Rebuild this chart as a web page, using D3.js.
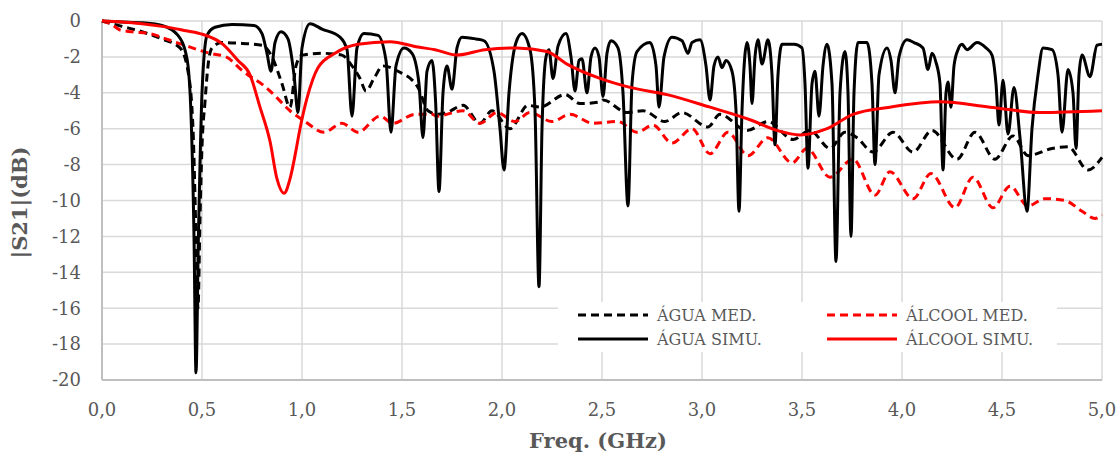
<!DOCTYPE html>
<html>
<head>
<meta charset="utf-8">
<script src="https://cdn.jsdelivr.net/npm/d3@7"></script>
<style>
  body { margin: 0; background: #fff; }
  svg text { font-family: "DejaVu Serif", serif; fill: #595959; }
</style>
</head>
<body>
<svg id="chart" width="1120" height="457"></svg>
<script>
// tick values
const xTicks = [0, 0.5, 1, 1.5, 2, 2.5, 3, 3.5, 4, 4.5, 5];
const yTicks = [0, -2, -4, -6, -8, -10, -12, -14, -16, -18, -20];

// series: [freq GHz, |S21| dB]
const aguaMed = [[0,0],[0.1,-0.3],[0.2,-0.6],[0.3,-1.0],[0.39,-1.5],[0.43,-2.8],[0.455,-6],[0.47,-12],[0.48,-16],[0.49,-11],[0.5,-7],[0.515,-4.5],[0.53,-2.5],[0.55,-1.5],[0.6,-1.2],[0.7,-1.25],[0.8,-1.35],[0.85,-2.0],[0.9,-3.5],[0.94,-4.8],[0.97,-2.5],[1.0,-1.9],[1.1,-1.8],[1.2,-1.9],[1.25,-2.5],[1.29,-3.2],[1.32,-3.9],[1.36,-3.2],[1.405,-2.5],[1.48,-2.8],[1.58,-3.7],[1.63,-5.0],[1.68,-5.2],[1.725,-5.1],[1.805,-4.7],[1.89,-5.7],[1.95,-5.0],[2.04,-6.0],[2.13,-4.7],[2.19,-4.8],[2.315,-4.1],[2.39,-4.6],[2.49,-4.5],[2.505,-4.4],[2.625,-5.1],[2.705,-5.0],[2.815,-5.6],[2.9,-5.1],[3.03,-5.9],[3.09,-5.2],[3.225,-6.1],[3.33,-5.6],[3.455,-6.6],[3.54,-6.1],[3.64,-7.1],[3.715,-6.2],[3.775,-6.5],[3.855,-7.3],[3.955,-6.2],[4.055,-7.3],[4.15,-6.1],[4.275,-7.7],[4.365,-6.2],[4.465,-7.7],[4.555,-6.4],[4.63,-7.5],[4.75,-7.1],[4.83,-7.0],[4.93,-8.3],[5.0,-7.6]];

const aguaSim = [[0,0],[0.1,-0.05],[0.2,-0.1],[0.3,-0.25],[0.38,-0.8],[0.425,-2.1],[0.445,-5.2],[0.46,-12],[0.47,-19.6],[0.482,-12],[0.49,-8],[0.5,-4],[0.525,-0.8],[0.565,-0.35],[0.65,-0.2],[0.76,-0.25],[0.8,-0.7],[0.825,-1.8],[0.845,-2.8],[0.865,-1.2],[0.895,-0.6],[0.93,-1.0],[0.96,-3],[0.98,-5.1],[1.0,-1.5],[1.04,-0.15],[1.1,-0.45],[1.19,-0.9],[1.225,-1.6],[1.25,-5.3],[1.275,-1.5],[1.31,-0.7],[1.38,-0.8],[1.42,-2.2],[1.445,-6.2],[1.47,-2.5],[1.51,-1.5],[1.55,-1.8],[1.585,-3.5],[1.605,-6.5],[1.625,-2.8],[1.65,-2.2],[1.668,-4.5],[1.685,-9.5],[1.705,-4],[1.725,-2.5],[1.75,-3.8],[1.775,-1.5],[1.8,-0.9],[1.87,-1.0],[1.91,-1.1],[1.96,-2.8],[1.99,-6],[2.01,-8.3],[2.035,-4],[2.07,-1.2],[2.1,-0.7],[2.14,-1.6],[2.165,-5],[2.185,-14.8],[2.2,-6],[2.22,-2],[2.235,-1.6],[2.255,-3.2],[2.28,-1.4],[2.32,-0.7],[2.345,-2],[2.365,-3.9],[2.385,-2.2],[2.4,-2.1],[2.425,-4],[2.445,-2],[2.465,-1.5],[2.485,-2],[2.505,-4.2],[2.525,-1.8],[2.545,-1.1],[2.58,-1.5],[2.605,-4],[2.63,-10.3],[2.65,-3.5],[2.675,-1.7],[2.74,-1.2],[2.77,-2.5],[2.785,-4.8],[2.81,-2],[2.85,-0.9],[2.9,-1.1],[2.93,-1.8],[2.95,-1.2],[2.99,-1.05],[3.02,-2.5],[3.04,-4.4],[3.06,-2.5],[3.08,-2.0],[3.1,-2.6],[3.12,-2.2],[3.15,-2.8],[3.17,-5],[3.185,-10.6],[3.2,-5],[3.225,-1.2],[3.24,-2.5],[3.25,-4.6],[3.265,-2],[3.28,-1.05],[3.3,-2.4],[3.33,-1.05],[3.35,-3],[3.365,-6.9],[3.38,-3],[3.4,-1.3],[3.46,-1.3],[3.5,-1.5],[3.515,-3.5],[3.53,-8.2],[3.55,-3.5],[3.565,-2.8],[3.585,-5.3],[3.605,-2.5],[3.625,-1.3],[3.65,-3.5],[3.67,-13.4],[3.69,-4],[3.715,-1.7],[3.73,-4],[3.745,-12],[3.76,-4],[3.78,-1.2],[3.825,-1.2],[3.85,-3.5],[3.865,-8],[3.885,-3],[3.925,-1.5],[3.945,-2.2],[3.965,-4],[3.985,-2],[4.025,-1.05],[4.06,-1.2],[4.105,-1.5],[4.13,-2.7],[4.15,-1.8],[4.17,-2.3],[4.19,-3.5],[4.205,-8.3],[4.22,-4],[4.23,-3.4],[4.245,-4.8],[4.26,-2.5],[4.28,-1.6],[4.3,-1.3],[4.325,-1.6],[4.375,-1.2],[4.42,-1.5],[4.45,-1.9],[4.47,-3.5],[4.485,-5.8],[4.505,-3.3],[4.53,-6.3],[4.56,-3.7],[4.59,-6.5],[4.625,-10.6],[4.65,-6],[4.68,-3],[4.705,-1.5],[4.75,-1.6],[4.78,-3],[4.8,-6.2],[4.83,-2.7],[4.855,-4],[4.87,-7.1],[4.885,-3],[4.9,-1.9],[4.94,-3.1],[4.975,-1.35],[5.0,-1.3]];

const alcoolMed = [[0,0],[0.05,-0.2],[0.09,-0.5],[0.15,-0.6],[0.24,-0.7],[0.32,-1.0],[0.4,-1.3],[0.54,-1.8],[0.62,-2.0],[0.705,-2.8],[0.82,-3.7],[0.85,-4.0],[0.94,-5.0],[1.015,-5.6],[1.11,-6.2],[1.2,-5.7],[1.28,-6.2],[1.39,-5.3],[1.455,-5.7],[1.565,-5.2],[1.65,-5.2],[1.675,-5.3],[1.805,-5.0],[1.89,-5.7],[1.975,-5.1],[2.065,-5.6],[2.14,-5.1],[2.25,-5.6],[2.34,-5.2],[2.455,-5.7],[2.58,-5.6],[2.675,-6.2],[2.755,-5.8],[2.85,-6.8],[2.95,-6.0],[3.04,-7.4],[3.13,-6.2],[3.23,-7.5],[3.33,-6.5],[3.45,-7.9],[3.525,-7.1],[3.64,-8.7],[3.755,-7.7],[3.865,-9.7],[3.94,-8.4],[4.055,-9.9],[4.145,-8.5],[4.265,-10.4],[4.355,-8.7],[4.455,-10.4],[4.54,-9.2],[4.63,-10.3],[4.715,-9.9],[4.815,-10.0],[4.9,-10.6],[4.965,-11.0],[5.0,-10.8]];

const alcoolSim = [[0,0],[0.1,-0.05],[0.2,-0.15],[0.3,-0.3],[0.4,-0.5],[0.49,-0.7],[0.605,-1.3],[0.68,-2.2],[0.74,-3.0],[0.79,-4.8],[0.84,-6.7],[0.875,-8.8],[0.91,-9.6],[0.94,-8.8],[0.965,-7.5],[0.99,-6.0],[1.025,-4.3],[1.08,-2.6],[1.165,-1.8],[1.28,-1.3],[1.44,-1.15],[1.58,-1.45],[1.665,-1.6],[1.775,-1.9],[1.915,-1.6],[2.075,-1.5],[2.225,-1.7],[2.325,-2.4],[2.49,-3.2],[2.64,-3.7],[2.825,-4.1],[3.04,-4.8],[3.24,-5.5],[3.375,-6.1],[3.49,-6.35],[3.625,-6.0],[3.755,-5.2],[3.94,-4.8],[4.19,-4.5],[4.44,-4.8],[4.69,-5.1],[5.0,-5.0]];

const series = [
  { name: 'ÁGUA MED.', data: aguaMed, color: '#000', dash: '8,5' },
  { name: 'ÁLCOOL MED.', data: alcoolMed, color: '#ff0000', dash: '8,5' },
  { name: 'ÁGUA SIMU.', data: aguaSim, color: '#000', dash: null },
  { name: 'ÁLCOOL SIMU.', data: alcoolSim, color: '#ff0000', dash: null }
];

const svg = d3.select('#chart');
const margin = { left: 102, right: 18, top: 21, bottom: 77 };
const width = 1120 - margin.left - margin.right;
const height = 457 - margin.top - margin.bottom;

const x = d3.scaleLinear().domain([0, 5]).range([0, width]);
const y = d3.scaleLinear().domain([-20, 0]).range([height, 0]);

const g = svg.append('g').attr('transform', `translate(${margin.left},${margin.top})`);

// grid
g.selectAll('.hgrid').data(yTicks).enter().append('line')
  .attr('x1', 0).attr('x2', width)
  .attr('y1', d => y(d)).attr('y2', d => y(d))
  .attr('stroke', '#d9d9d9').attr('stroke-width', 1.5);
g.selectAll('.vgrid').data(xTicks).enter().append('line')
  .attr('x1', d => x(d)).attr('x2', d => x(d))
  .attr('y1', 0).attr('y2', height)
  .attr('stroke', '#d9d9d9').attr('stroke-width', 1.5);

// axis lines
g.append('line').attr('x1', 0).attr('x2', 0).attr('y1', 0).attr('y2', height)
  .attr('stroke', '#bfbfbf').attr('stroke-width', 2);
g.append('line').attr('x1', 0).attr('x2', width).attr('y1', height).attr('y2', height)
  .attr('stroke', '#bfbfbf').attr('stroke-width', 2);

// tick labels
const fmt = d => d3.format('.1f')(d).replace('.', ',');
g.selectAll('.xlab').data(xTicks).enter().append('text')
  .attr('x', d => x(d)).attr('y', height + 36)
  .attr('text-anchor', 'middle').style('font-size', '18px')
  .text(fmt);
g.selectAll('.ylab').data(yTicks).enter().append('text')
  .attr('x', -21).attr('y', d => y(d)).attr('dy', '0.35em')
  .attr('text-anchor', 'end').style('font-size', '18px')
  .text(d => d);

// axis titles
svg.append('text').attr('x', margin.left + width / 2 - 4).attr('y', 448)
  .attr('text-anchor', 'middle').style('font-size', '21px').style('font-weight', 'bold')
  .text('Freq. (GHz)');
svg.append('text').attr('transform', `translate(27,${margin.top + height / 2 + 2}) rotate(-90)`)
  .attr('text-anchor', 'middle').style('font-size', '21px').style('font-weight', 'bold')
  .text('|S21|(dB)');

// lines
const line = d3.line()
  .x(d => x(d[0])).y(d => y(d[1]))
  .curve(d3.curveMonotoneX);

g.selectAll('.series').data(series).enter().append('path')
  .attr('d', d => line(d.data))
  .attr('fill', 'none')
  .attr('stroke', d => d.color)
  .attr('stroke-width', 3)
  .attr('stroke-dasharray', d => d.dash)
  .attr('stroke-linejoin', 'round');

// legend
const legend = svg.append('g');
legend.append('rect').attr('x', 558).attr('y', 302).attr('width', 499).attr('height', 50)
  .attr('fill', '#fff');
const cols = [578, 827];
const rows = [315, 339];
series.forEach((s, i) => {
  const lx = cols[i % 2], ly = rows[Math.floor(i / 2)];
  legend.append('line').attr('x1', lx).attr('x2', lx + 70).attr('y1', ly).attr('y2', ly)
    .attr('stroke', s.color).attr('stroke-width', 3).attr('stroke-dasharray', s.dash);
  legend.append('text').attr('x', lx + 79).attr('y', ly).attr('dy', '0.35em')
    .style('font-size', '16px').text(s.name);
});
</script>
</body>
</html>
